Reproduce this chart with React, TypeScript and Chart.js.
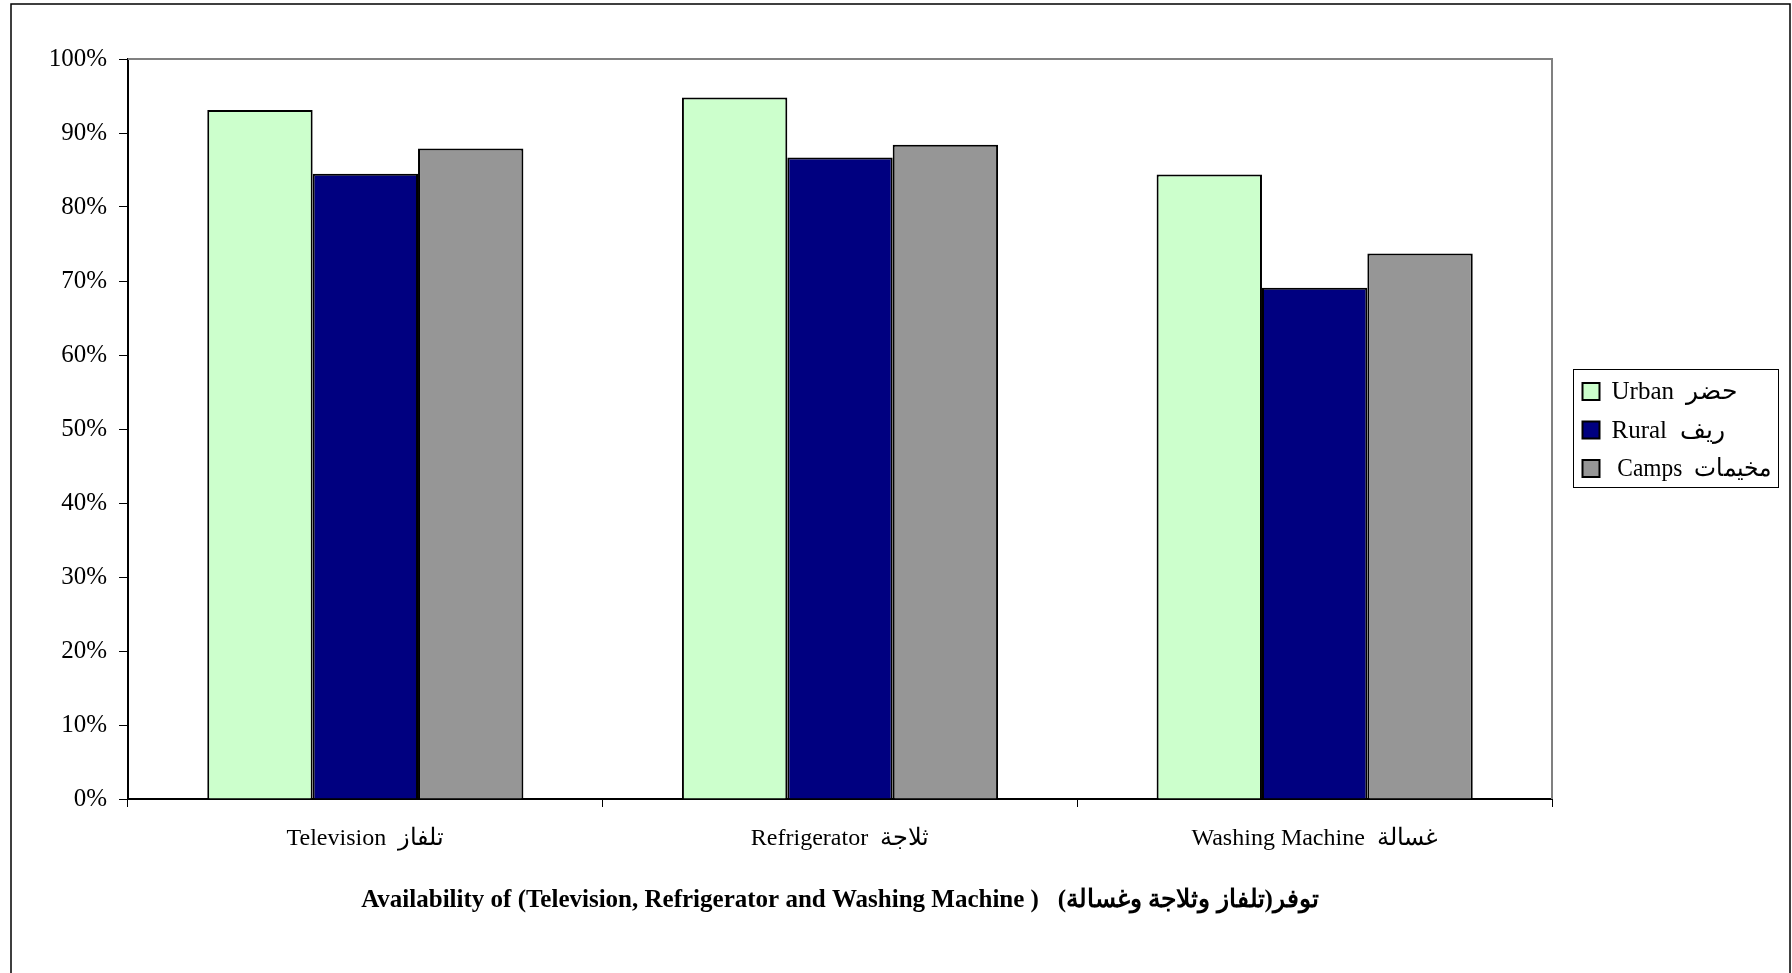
import React, { useEffect, useRef } from "react";
import { Chart, registerables } from "chart.js";

Chart.register(...registerables);

const categories = ["Television  تلفاز", "Refrigerator  ثلاجة", "Washing Machine  غسالة"];
const seriesNames = ["Urban  حضر", "Rural  ريف", " Camps  مخيمات"];
const urbanValues = [93.1, 94.8, 84.4];
const ruralValues = [84.5, 86.7, 69.1];
const campsValues = [87.9, 88.4, 73.7];
const seriesColors = ["#CCFFCC", "#000080", "#969696"];
const yTicks = [0, 10, 20, 30, 40, 50, 60, 70, 80, 90, 100];
const titleText = "Availability of (Television, Refrigerator and Washing Machine )   توفر(تلفاز وثلاجة وغسالة)";

const SERIF = "'Liberation Serif', 'Times New Roman', serif";

const framePlugin = {
  id: "frame",
  afterDraw(chart: any) {
    const ctx = chart.ctx;
    const a = chart.chartArea;
    ctx.save();
    // outer chart border
    ctx.strokeStyle = "#000";
    ctx.lineWidth = 1.5;
    ctx.strokeRect(11, 4, chart.width - 13, chart.height + 40);
    // plot area top/right border
    ctx.strokeStyle = "#808080";
    ctx.lineWidth = 2;
    ctx.beginPath();
    ctx.moveTo(a.left, a.top);
    ctx.lineTo(a.right, a.top);
    ctx.lineTo(a.right, a.bottom);
    ctx.stroke();
    // legend
    const lx = a.right + 21.5;
    const ly = 369.5;
    const lw = 205;
    const lh = 118;
    ctx.fillStyle = "#fff";
    ctx.fillRect(lx, ly, lw, lh);
    ctx.strokeStyle = "#000";
    ctx.lineWidth = 1;
    ctx.strokeRect(lx, ly, lw, lh);
    ctx.font = `25px ${SERIF}`;
    ctx.textBaseline = "middle";
    ctx.textAlign = "left";
    chart.data.datasets.forEach((ds: any, i: number) => {
      const cy = ly + 22 + i * 38.5;
      ctx.fillStyle = ds.backgroundColor;
      ctx.fillRect(lx + 9, cy - 8.5, 17, 17);
      ctx.strokeStyle = "#000";
      ctx.lineWidth = 2;
      ctx.strokeRect(lx + 9, cy - 8.5, 17, 17);
      ctx.fillStyle = "#000";
      ctx.fillText(ds.label, lx + 38, cy + 1, lw - 45);
    });
    // axis title
    ctx.font = `bold 25px ${SERIF}`;
    ctx.textAlign = "center";
    ctx.fillStyle = "#000";
    ctx.fillText(titleText, (a.left + a.right) / 2, 901, 960);
    ctx.restore();
  },
};

export default function App() {
  const ref = useRef<HTMLCanvasElement>(null);
  useEffect(() => {
    if (!ref.current) return;
    const chart = new Chart(ref.current, {
      type: "bar",
      data: {
        labels: categories,
        datasets: [urbanValues, ruralValues, campsValues].map((vals, i) => ({
          label: seriesNames[i],
          data: vals,
          backgroundColor: seriesColors[i],
          borderColor: "#000",
          borderWidth: 2,
          categoryPercentage: 0.666,
          barPercentage: 1,
        })),
      },
      options: {
        responsive: false,
        animation: false,
        devicePixelRatio: 1,
        layout: { padding: { left: 0, top: 59, right: 240, bottom: 0 } },
        plugins: { legend: { display: false }, tooltip: { enabled: false } },
        scales: {
          x: {
            offset: true,
            grid: { display: true, offset: true, drawOnChartArea: false, drawTicks: true, tickLength: 8, color: "#000", lineWidth: 1 },
            border: { display: true, color: "#000", width: 2 },
            ticks: { color: "#000", font: { family: SERIF, size: 24 }, padding: 17, maxRotation: 0 },
            afterFit: (s: any) => { s.height = 174; },
          },
          y: {
            min: 0,
            max: 100,
            afterBuildTicks: (s: any) => { s.ticks = yTicks.map((v) => ({ value: v })); },
            grid: { display: true, drawOnChartArea: false, drawTicks: true, tickLength: 9, color: "#000", lineWidth: 1 },
            border: { display: true, color: "#000", width: 2 },
            ticks: { color: "#000", font: { family: SERIF, size: 25 }, padding: 12, callback: (v: any) => `${v}%` },
            afterFit: (s: any) => { s.width = 128; },
          },
        },
      },
      plugins: [framePlugin],
    });
    return () => chart.destroy();
  }, []);
  return (
    <div style={{ position: "absolute", left: 0, top: 0, width: 1792, height: 973, background: "#fff" }}>
      <canvas ref={ref} width={1792} height={973} style={{ display: "block" }} />
    </div>
  );
}
